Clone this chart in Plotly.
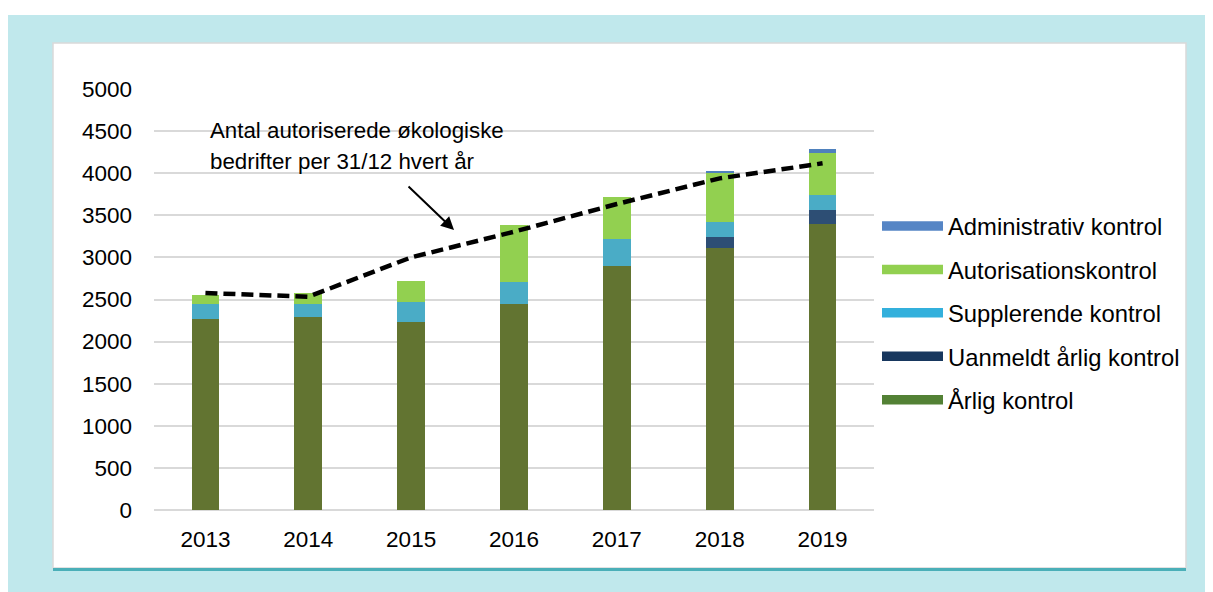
import plotly.graph_objects as go

years = [2013, 2014, 2015, 2016, 2017, 2018, 2019]
arlig = [2265, 2289, 2236, 2443, 2901, 3108, 3393]
uanmeldt = [0, 0, 0, 0, 0, 138, 170]
supplerende = [182, 158, 238, 268, 314, 178, 178]
autorisation = [106, 127, 246, 677, 499, 582, 499]
administrativ = [0, 0, 0, 0, 0, 24, 47]
antal_bedrifter = [2577, 2533, 3000, 3305, 3634, 3939, 4117]

series_names = ["Årlig kontrol", "Uanmeldt årlig kontrol", "Supplerende kontrol",
                "Autorisationskontrol", "Administrativ kontrol"]
series_values = [arlig, uanmeldt, supplerende, autorisation, administrativ]
bar_colors = ["#627431", "#2d4e74", "#4aacc6", "#92d050", "#4f81bd"]
legend_colors = ["#538135", "#17375e", "#33b0dc", "#92d050", "#5585c5"]

FONT = "Arial, 'Liberation Sans', sans-serif"

# figure-pixel layout (page body adds an 8px offset)
W, H = 1205, 584
PL, PR, PT, PB = 146, 866, 81, 502

def px(xp):
    return (xp - PL) / (PR - PL)

def py(yp):
    return (PB - yp) / (PB - PT)

fig = go.Figure()

for name, vals, col in zip(series_names, series_values, bar_colors):
    fig.add_trace(go.Bar(x=years, y=vals, name=name, marker=dict(color=col, line=dict(width=0)),
                         showlegend=False))

fig.add_trace(go.Scatter(x=years, y=antal_bedrifter, mode="lines",
                         line=dict(color="black", width=4.5, dash="12px,6px"),
                         showlegend=False))

# legend entries (reverse order)
for i, (name, col) in enumerate(reversed(list(zip(series_names, legend_colors)))):
    fig.add_trace(go.Scatter(x=[None], y=[None], mode="lines", name=name,
                             line=dict(color=col, width=9.5), legendgroup=f"g{i}",
                             showlegend=True))

shapes = [
    dict(type="rect", xref="paper", yref="paper", x0=px(-1), x1=px(W + 5), y0=py(7), y1=py(H + 5),
         fillcolor="#c0e8ec", line=dict(width=0), layer="below"),
    dict(type="rect", xref="paper", yref="paper", x0=px(45), x1=px(1178), y0=py(35), y1=py(560),
         fillcolor="white", line=dict(color="#d9d9d9", width=1.5), layer="below"),
    dict(type="line", xref="paper", yref="paper", x0=px(45), x1=px(1178), y0=py(561.5), y1=py(561.5),
         line=dict(color="#4aafb8", width=3), layer="below"),
]

annotations = [
    dict(text="Antal autoriserede økologiske", xref="paper", yref="paper", x=px(200), y=py(122),
         xanchor="left", yanchor="middle", showarrow=False, font=dict(size=22.3, color="black", family=FONT)),
    dict(text="bedrifter per 31/12 hvert år", xref="paper", yref="paper", x=px(200), y=py(153),
         xanchor="left", yanchor="middle", showarrow=False, font=dict(size=22.3, color="black", family=FONT)),
    dict(text="", x=2015.417, y=3325, xref="x", yref="y", ax=2014.96, ay=3860, axref="x", ayref="y",
         showarrow=True, arrowhead=2, arrowsize=1.3, arrowwidth=2, arrowcolor="black"),
]

fig.update_layout(
    width=W, height=H,
    margin=dict(l=PL, r=W - PR, t=PT, b=H - PB, pad=0),
    paper_bgcolor="white", plot_bgcolor="rgba(0,0,0,0)",
    barmode="stack", bargap=0.73,
    font=dict(family=FONT, size=22, color="black"),
    shapes=shapes, annotations=annotations,
    legend=dict(x=px(869), y=py(196), xanchor="left", yanchor="top", bgcolor="rgba(0,0,0,0)",
                font=dict(size=23.8, family=FONT, color="black"), tracegroupgap=9.5,
                traceorder="grouped", itemwidth=61),
    xaxis=dict(range=[2012.5, 2019.5], tickmode="array", tickvals=years,
               ticktext=[str(y) for y in years], showgrid=False, zeroline=False,
               showline=False, ticks="", ticklabelstandoff=13,
               tickfont=dict(size=22.5, family=FONT, color="black")),
    yaxis=dict(range=[0, 5000], dtick=500, showgrid=True, gridcolor="#d9d9d9", gridwidth=1.5,
               zeroline=True, zerolinecolor="#d9d9d9", zerolinewidth=2, showline=False,
               ticks="", ticklabelstandoff=21,
               tickfont=dict(size=22.5, family=FONT, color="black")),
)

fig.write_html("out.html")
